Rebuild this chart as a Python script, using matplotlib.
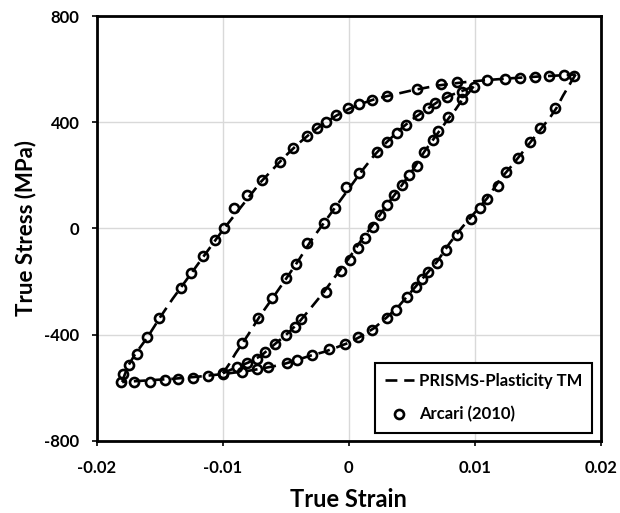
import numpy as np
import matplotlib.pyplot as plt

plt.rcParams['font.family'] = ['Lato', 'DejaVu Sans']
plt.rcParams['font.weight'] = 'bold'
plt.rcParams['axes.unicode_minus'] = False

# simulation (PRISMS-Plasticity TM)
sim_outer_up_x = [-0.018, -0.0178, -0.0175, -0.017, -0.016, -0.015, -0.014, -0.013, -0.012, -0.011,
                  -0.010, -0.009, -0.008, -0.007, -0.006, -0.005, -0.004, -0.003, -0.002, -0.001,
                  0.0, 0.001, 0.002, 0.003, 0.005, 0.007, 0.009, 0.011, 0.013, 0.015, 0.017, 0.018]
sim_outer_up_y = [-578, -550, -515, -475, -410, -335, -265, -200, -135, -70,
                  -5, 55, 115, 175, 225, 275, 320, 360, 395, 425,
                  450, 470, 486, 498, 520, 538, 550, 559, 566, 572, 577, 580]

sim_outer_dn_x = [0.018, 0.0175, 0.017, 0.0165, 0.016, 0.015, 0.014, 0.013, 0.012, 0.011,
                  0.010, 0.009, 0.008, 0.007, 0.006, 0.005, 0.004, 0.003, 0.002, 0.001,
                  0.0, -0.001, -0.002, -0.003, -0.004, -0.005, -0.006, -0.007, -0.008, -0.009,
                  -0.010, -0.012, -0.014, -0.016, -0.018]
sim_outer_dn_y = [580, 540, 500, 455, 420, 360, 300, 240, 185, 115,
                  60, 5, -55, -125, -180, -235, -290, -335, -375, -405,
                  -430, -448, -465, -478, -493, -508, -519, -528, -536, -542,
                  -548, -558, -566, -572, -578]

sim_inner_up_x = [-0.010, -0.0095, -0.009, -0.0085, -0.008, -0.007, -0.006, -0.005, -0.004, -0.003,
                  -0.002, -0.001, 0.0, 0.001, 0.002, 0.003, 0.004, 0.005, 0.006, 0.007,
                  0.008, 0.009, 0.0099]
sim_inner_up_y = [-545, -510, -470, -435, -400, -325, -258, -190, -120, -45,
                  20, 85, 150, 215, 275, 325, 370, 410, 443, 475,
                  500, 518, 535]

sim_inner_dn_x = [0.0099, 0.0095, 0.009, 0.0085, 0.008, 0.007, 0.006, 0.005, 0.004, 0.003,
                  0.002, 0.001, 0.0, -0.001, -0.002, -0.003, -0.004, -0.005, -0.006, -0.007,
                  -0.008, -0.009, -0.010]
sim_inner_dn_y = [535, 510, 485, 450, 420, 355, 290, 215, 150, 88,
                  20, -43, -112, -175, -240, -298, -355, -401, -440, -480,
                  -505, -524, -545]

# experiment (Arcari 2010), open circles
exp_outer_up_x = [-0.0181, -0.0179, -0.0175, -0.0168, -0.0160, -0.0151, -0.0133, -0.0125, -0.0116, -0.0106,
                  -0.0099, -0.0091, -0.0081, -0.0069, -0.0055, -0.0044, -0.0033, -0.0025, -0.0018, -0.0010,
                  -0.0001, 0.0008, 0.0018, 0.0030, 0.0054, 0.0073, 0.0086, 0.0110, 0.0124, 0.0136,
                  0.0148, 0.0159, 0.0171, 0.0179]
exp_outer_up_y = [-578, -548, -514, -473, -408, -337, -224, -168, -104, -43,
                  2, 77, 126, 183, 250, 303, 348, 378, 401, 427,
                  454, 469, 484, 499, 525, 544, 552, 559, 563, 566,
                  570, 574, 578, 574]

exp_outer_dn_x = [0.0164, 0.0152, 0.0144, 0.0134, 0.0125, 0.0118, 0.0110, 0.0104, 0.0097, 0.0086,
                  0.0077, 0.0070, 0.0063, 0.0058, 0.0053, 0.0046, 0.0037, 0.0030, 0.0018, 0.0007,
                  -0.0003, -0.0016, -0.0029, -0.0041, -0.0049, -0.0064, -0.0073, -0.0085, -0.0100, -0.0112,
                  -0.0124, -0.0136, -0.0146, -0.0158, -0.0171]
exp_outer_dn_y = [454, 378, 326, 265, 213, 160, 111, 77, 36, -24,
                  -81, -130, -164, -190, -220, -258, -307, -337, -382, -408,
                  -435, -454, -476, -495, -507, -521, -529, -540, -548, -555,
                  -563, -567, -570, -577, -577]

exp_inner_up_x = [-0.0085, -0.0072, -0.0061, -0.0050, -0.0042, -0.0033, -0.0020, -0.0011, -0.0002, 0.0008,
                  0.0022, 0.0030, 0.0038, 0.0045, 0.0055, 0.0063, 0.0068, 0.0078, 0.0090, 0.0099]
exp_inner_up_y = [-433, -337, -262, -185, -134, -55, 22, 77, 156, 209,
                  288, 326, 360, 390, 427, 453, 472, 495, 514, 532]

exp_inner_dn_x = [0.0090, 0.0079, 0.0071, 0.0067, 0.0060, 0.0054, 0.0048, 0.0042, 0.0036, 0.0030,
                  0.0025, 0.0019, 0.0013, 0.0007, 0.0001, -0.0006, -0.0018, -0.0038, -0.0043, -0.0050,
                  -0.0059, -0.0067, -0.0073, -0.0081, -0.0089, -0.0100]
exp_inner_dn_y = [488, 420, 367, 333, 288, 235, 201, 162, 126, 87,
                  51, 6, -36, -73, -117, -160, -238, -340, -371, -401,
                  -435, -465, -491, -507, -521, -544]

fig = plt.figure(figsize=(6.2, 5.13), dpi=100)
ax = fig.add_axes([0.1565, 0.1404, 0.8125, 0.8284])

dash = dict(color='black', linewidth=1.9, linestyle=(0, (4.5, 2.6)))
ax.plot(sim_outer_up_x, sim_outer_up_y, label='PRISMS-Plasticity TM', **dash)
ax.plot(sim_outer_dn_x, sim_outer_dn_y, **dash)
ax.plot(sim_inner_up_x, sim_inner_up_y, **dash)
ax.plot(sim_inner_dn_x, sim_inner_dn_y, **dash)

circ = dict(linestyle='none', marker='o', markersize=6.5, markerfacecolor='none',
            markeredgecolor='black', markeredgewidth=1.9)
ax.plot(exp_outer_up_x, exp_outer_up_y, label='Arcari (2010)', **circ)
ax.plot(exp_outer_dn_x, exp_outer_dn_y, **circ)
ax.plot(exp_inner_up_x, exp_inner_up_y, **circ)
ax.plot(exp_inner_dn_x, exp_inner_dn_y, **circ)

ax.set_xlim(-0.02, 0.02)
ax.set_ylim(-800, 800)
ax.set_xticks([-0.02, -0.01, 0, 0.01, 0.02])
ax.set_xticklabels(['-0.02', '-0.01', '0', '0.01', '0.02'])
ax.set_yticks([-800, -400, 0, 400, 800])
ax.set_yticklabels(['-800', '-400', '0', '400', '800'])
ax.grid(True, color='#d9d9d9', linewidth=1.0)
ax.set_axisbelow(True)
for s in ax.spines.values():
    s.set_linewidth(2.0)
ax.tick_params(labelsize=12, width=1.2, length=3.6, direction='out')
ax.tick_params(axis='x', pad=10)
ax.tick_params(axis='y', pad=9)
for lbl in ax.get_xticklabels() + ax.get_yticklabels():
    lbl.set_fontweight('bold')

ax.set_xlabel('True Strain', fontsize=17, fontweight='bold', labelpad=9)
ax.set_ylabel('True Stress (MPa)', fontsize=16, fontweight='bold', labelpad=6)

leg = ax.legend(loc='lower right', fontsize=12, frameon=True, fancybox=False,
                edgecolor='black', framealpha=1, handlelength=1.75, handletextpad=0.3,
                borderpad=0.6, labelspacing=1.05, borderaxespad=0.5)
leg.get_frame().set_linewidth(1.5)
for t in leg.get_texts():
    t.set_fontweight('bold')

fig.savefig('out.png', dpi=100)
